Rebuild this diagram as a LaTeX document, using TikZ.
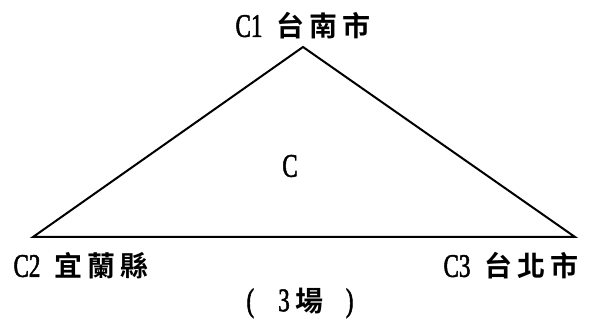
\documentclass[tikz,border=0pt]{standalone}
\usepackage{fontspec}
\newfontfamily\cjk{Noto Sans CJK TC Bold}
\newfontfamily\lat[FakeStretch=0.7,FakeBold=1.5]{Liberation Serif}
\newcommand{\latt}[1]{{\fontsize{33}{35}\selectfont\lat #1}}
\newcommand{\zh}[1]{{\fontsize{28}{30}\selectfont\cjk #1}}
\newcommand{\gapz}{\hspace{5pt}}
\begin{document}
\begin{tikzpicture}[x=1pt,y=-1pt,
  lab/.style={inner sep=0pt,anchor=center},
  edge/.style={line width=2pt,line join=miter}]
\useasboundingbox (0,0) rectangle (589,328);
\coordinate (A) at (303,47);
\coordinate (B) at (33,237);
\coordinate (Cc) at (575,237);
\draw[edge] (A) -- (B) -- (Cc) -- cycle;
\node[lab] (t1) at (303,26) {\latt{C1}\hspace{14pt}\zh{台}\gapz\zh{南}\gapz\zh{市}};
\node[lab] (t2) at (81,266) {\latt{C2}\hspace{14pt}\zh{宜}\gapz\zh{蘭}\gapz\zh{縣}};
\node[lab] (t3) at (511,266) {\latt{C3}\hspace{14pt}\zh{台}\gapz\zh{北}\gapz\zh{市}};
\node[lab] (tc) at (290,166) {\latt{C}};
\node[lab] (t4) at (300,303) {{\fontsize{33}{35}\selectfont\lat(}\hspace{24pt}\latt{3}\hspace{6pt}\zh{場}\hspace{22pt}{\fontsize{33}{35}\selectfont\lat)}};
\end{tikzpicture}
\end{document}
